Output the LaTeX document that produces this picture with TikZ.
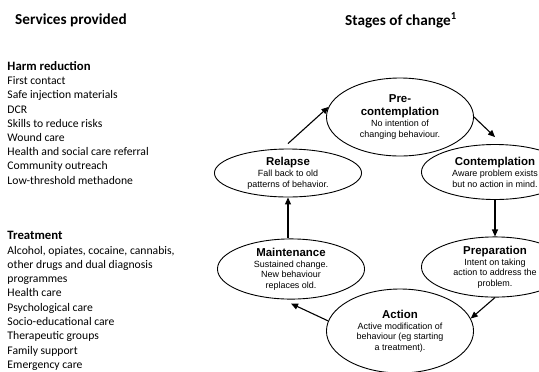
\documentclass[tikz,border=0pt]{standalone}
\usepackage{fontspec}
\setmainfont{Carlito}
\newfontfamily\arialf{Liberation Sans}
\usetikzlibrary{shapes.geometric,arrows.meta}
\newcommand\stagetext[2]{\begin{minipage}{104bp}\arialf\centering\fontsize{11.5}{12.7}\selectfont\bfseries #1\par\vspace{1bp}\fontsize{9}{10.5}\selectfont\mdseries #2\par\end{minipage}}
\begin{document}
\begin{tikzpicture}[x=1bp,y=-1bp,
 stage/.style={draw, line width=0.9bp, ellipse, inner sep=0pt, font=\arialf, align=center},
 arr/.style={line width=1.1bp, -{Triangle[length=7bp,width=6bp]}},
 head/.style={anchor=base west, inner sep=0pt, font=\fontsize{15.3}{18}\selectfont\bfseries},
 subhead/.style={anchor=base west, inner sep=0pt, font=\fontsize{12.8}{15}\selectfont\bfseries},
 item/.style={anchor=base west, inner sep=0pt, font=\fontsize{11.7}{14}\selectfont}]
\useasboundingbox (0,0) rectangle (539,371);

% left column
\node[head] (svc) at (15,24) {Services provided};
\node[subhead] (hr) at (7.3,70.5) {Harm reduction};
\foreach \t [count=\i] in {First contact, Safe injection materials, DCR, Skills to reduce risks, Wound care, Health and social care referral, Community outreach, Low-threshold methadone}
  \node[item] (hr\i) at (7.3,70.5+14.2*\i) {\t};
\node[subhead] (tr) at (7.3,239.7) {Treatment};
\foreach \t [count=\i] in {{Alcohol, opiates, cocaine, cannabis,}, other drugs and dual diagnosis, programmes, Health care, Psychological care, Socio-educational care, Therapeutic groups, Family support, Emergency care}
  \node[item] (tr\i) at (7.3,239.7+14.3*\i) {\t};

% right title
\node[head] (soc) at (345,25) {Stages of change\textsuperscript{1}};

% stages
\node[stage, minimum width=106bp, minimum height=78bp] (pre) at (400,117)
  {\stagetext{Pre-\\contemplation}{No intention of\\changing behaviour.}};
\node[stage, minimum width=105bp, minimum height=48bp] (rel) at (288,173)
  {\stagetext{Relapse}{Fall back to old\\patterns of behavior.}};
\node[stage, minimum width=106bp, minimum height=55bp] (cont) at (495,172)
  {\stagetext{Contemplation}{Aware problem exists\\but no action in mind.}};
\node[stage, minimum width=106bp, minimum height=60bp] (prep) at (495,267)
  {\stagetext{Preparation}{Intent on taking\\action to address the\\problem.}};
\node[stage, minimum width=108bp, minimum height=53bp] (maint) at (291,269)
  {\stagetext{Maintenance}{Sustained change.\\New behaviour\\replaces old.}};
\node[stage, minimum width=106bp, minimum height=84bp] (act) at (400,331)
  {\stagetext{Action}{Active modification of\\behaviour (eg starting\\a treatment).}};

% arrows
\draw[arr] ([yshift=5bp]rel.north) -- (pre.172);
\draw[arr] (pre.east) -- ([yshift=7bp]cont.north);
\draw[arr] (cont.south) -- (prep.north);
\draw[arr] (prep.south) -- (act.10);
\draw[arr] (act.172) -- ([yshift=-4bp]maint.south);
\draw[arr] (rel.south |- maint.north) -- (rel.south);
\end{tikzpicture}
\end{document}
